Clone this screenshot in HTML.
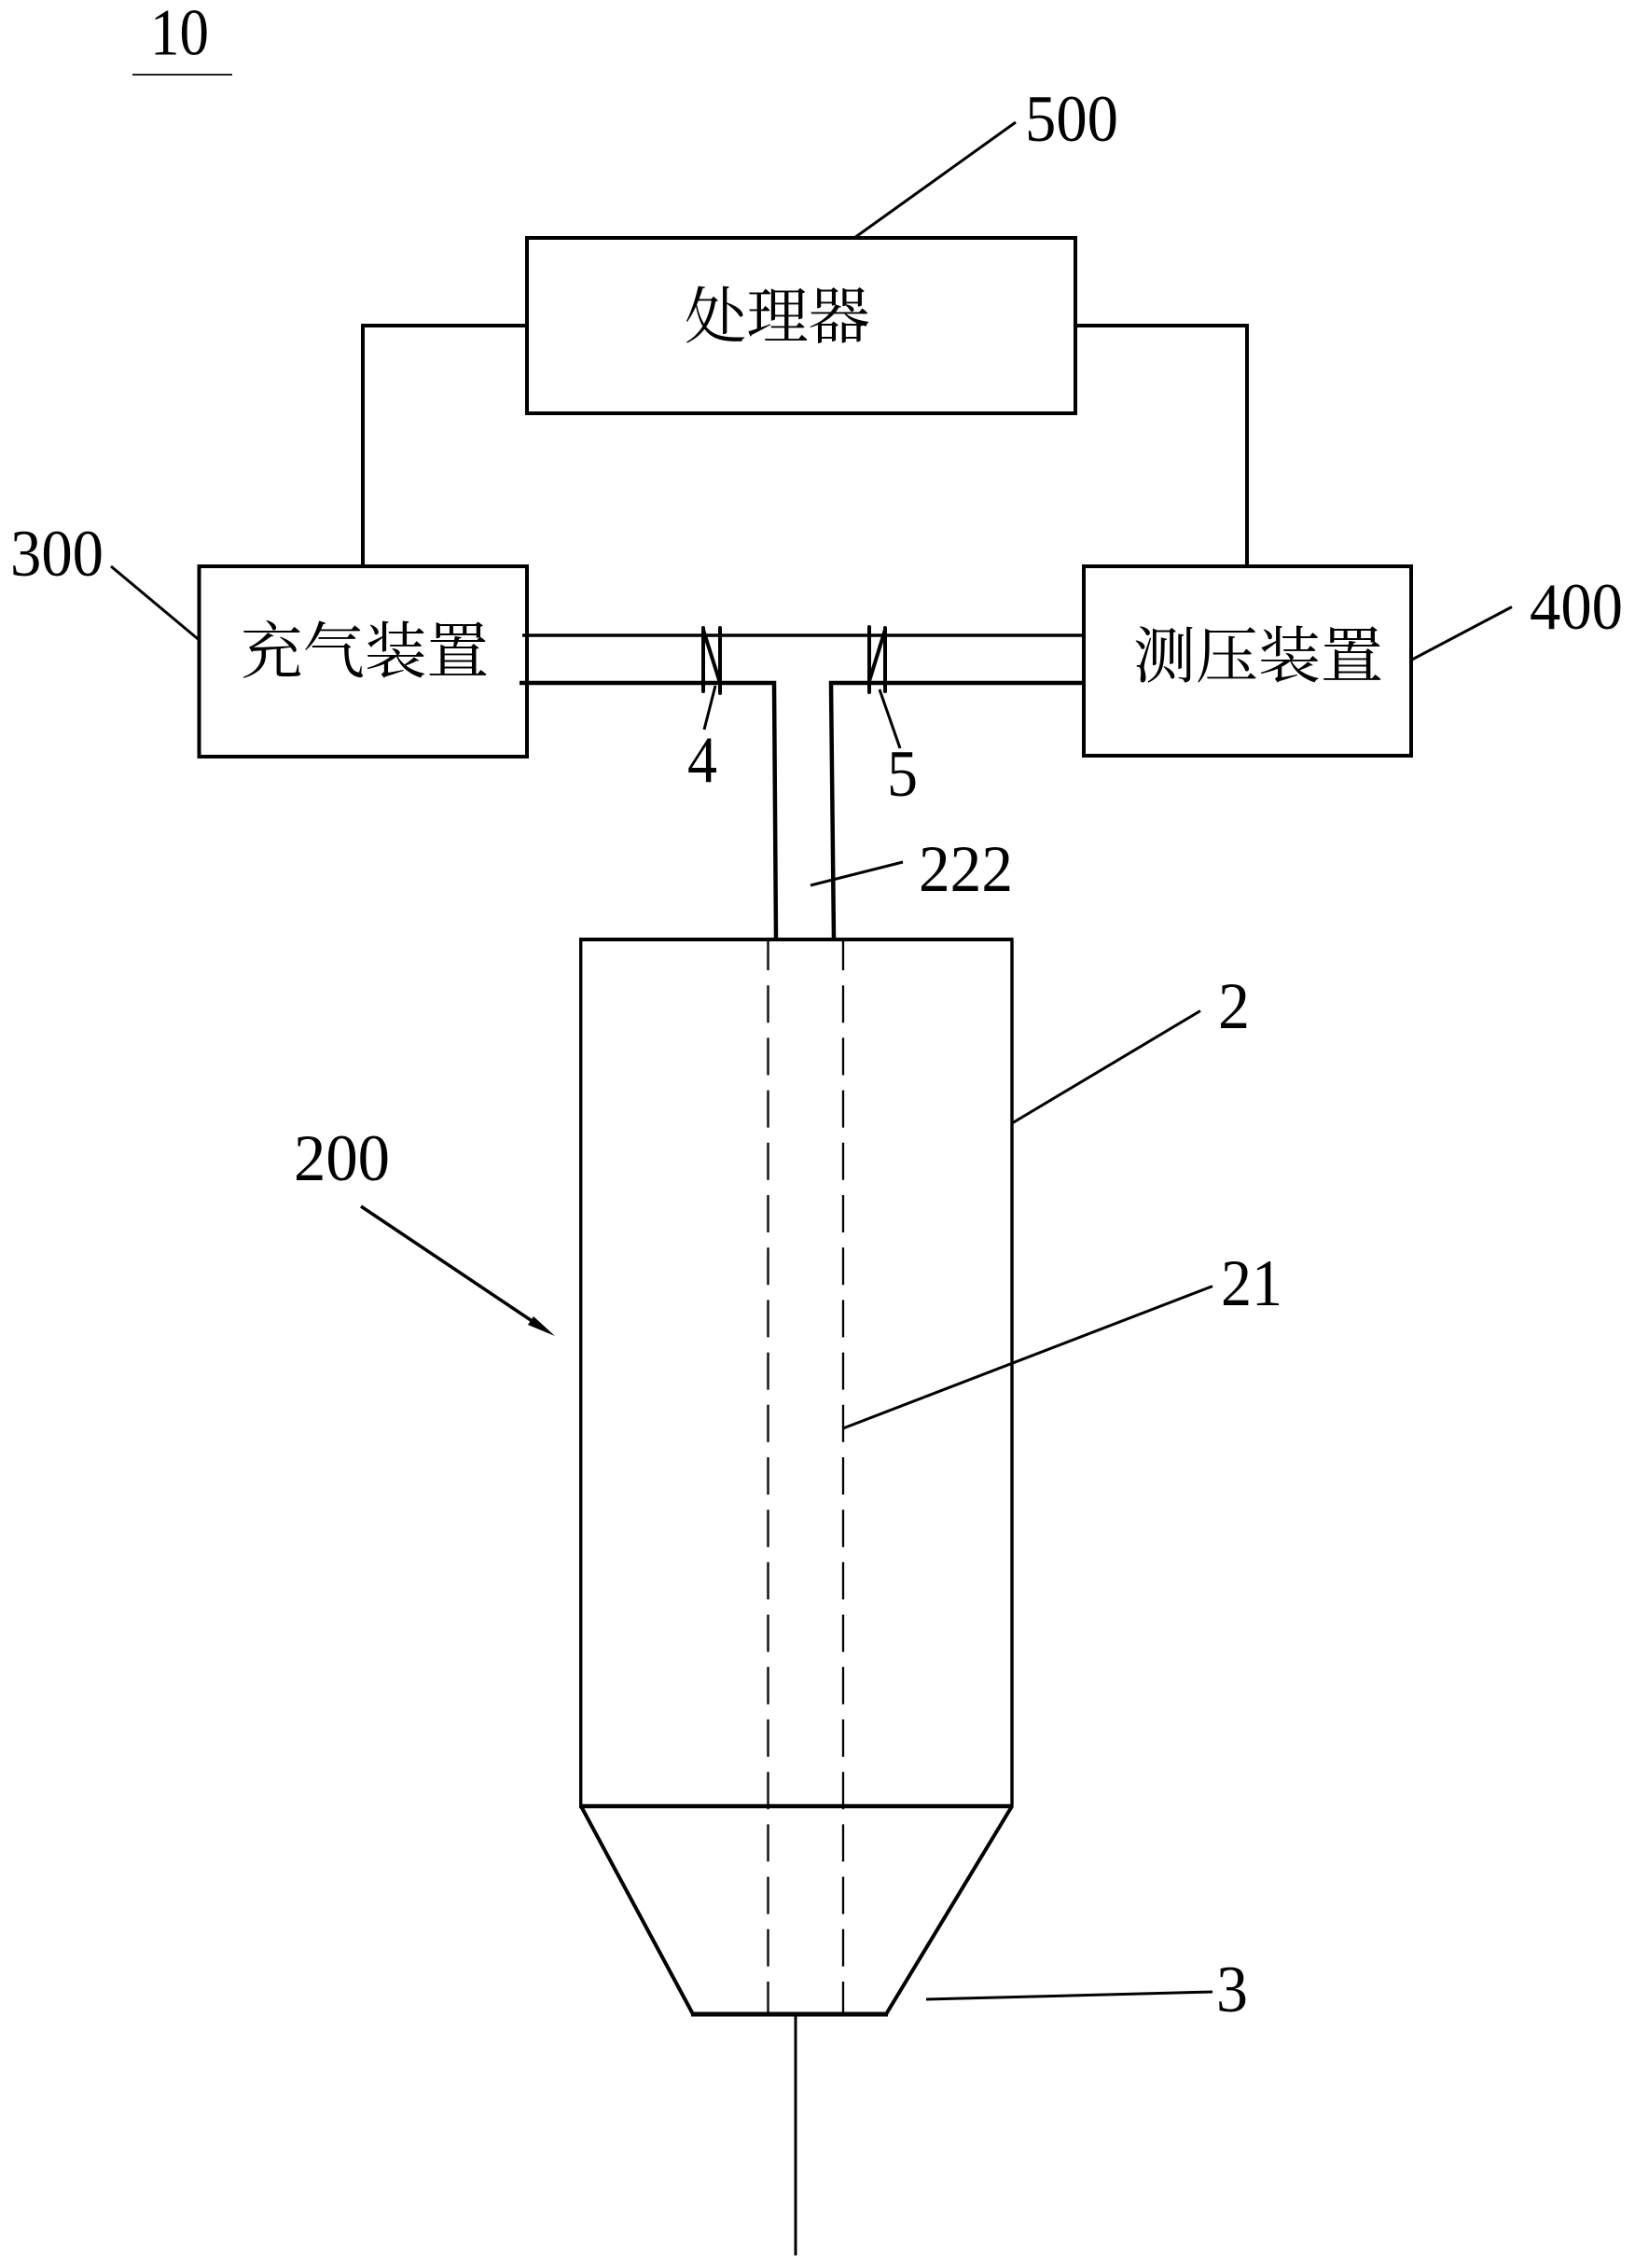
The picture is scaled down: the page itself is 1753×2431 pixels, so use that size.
<!DOCTYPE html>
<html lang="zh"><head><meta charset="utf-8"><title>Diagram</title>
<style>
html,body{margin:0;padding:0;background:#fff}
svg{display:block}
.n{font-family:"Liberation Serif",serif;font-size:71px;fill:#000}
.c{font-family:"Liberation Serif","Noto Serif CJK SC",serif;font-size:66px;fill:#000}
</style></head><body>
<svg xmlns="http://www.w3.org/2000/svg" width="1753" height="2431" viewBox="0 0 1753 2431">
<rect width="1753" height="2431" fill="#fff"/>
<g fill="none" stroke="#000" stroke-width="4" stroke-linejoin="miter">
<!-- boxes -->
<rect x="565" y="255" width="588" height="188"/>
<rect x="213.5" y="607" width="351.5" height="204"/>
<rect x="1162" y="607" width="351" height="203"/>
<!-- connectors -->
<path d="M565 349H389V607"/>
<path d="M1153 349H1337V607"/>
<!-- pipes -->
<path d="M560 681H1162" stroke-width="3.5"/>
<path d="M557 732H830L832 1007" stroke-width="4.5"/>
<path d="M1162 732H891L894 1007" stroke-width="4.5"/>
<!-- valves -->
<path d="M754 673V741M772 673V743M754 675L772 732" stroke-linecap="round"/>
<path d="M932 672V742M949 673V741M949 675L932 730" stroke-linecap="round"/>
<!-- body -->
<path d="M622.700 1007V1936M1085 1007V1936" stroke-width="3.400"/>
<path d="M621 1007H1086.500"/>
<path d="M621 1936H1086.500" stroke-width="4.500"/>
<path d="M623 1936L743 2159H950L1085 1936"/>
<path d="M741 2159H952" stroke-width="5"/>
<path d="M853 2159V2417.500" stroke-width="3"/>
</g>
<g fill="none" stroke="#000" stroke-width="2.300">
<path d="M823.500 1007V2159" stroke-dasharray="40 16.2" stroke-dashoffset="7"/>
<path d="M904 1007V2159" stroke-dasharray="40 16.2" stroke-dashoffset="7"/>
</g>
<g fill="none" stroke="#000" stroke-width="3">
<path d="M142 80H249" stroke-width="1.800"/>
<path d="M119 607L213.500 686"/>
<path d="M1089 131L916 255"/>
<path d="M1514 707L1621 650.500"/>
<path d="M767 735L755 782"/>
<path d="M943 739L965 802"/>
<path d="M869 949L968 924"/>
<path d="M1287 1083.500L1085 1204"/>
<path d="M387 1293L572 1417" stroke-width="3.500"/>
<path d="M1300 1378.600L904 1531"/>
<path d="M993 2143L1300 2135"/>
</g>
<polygon points="595,1432 566,1420 572,1411" fill="#000"/>
<!-- labels -->
<text class="n" x="161" y="58.500" textLength="63" lengthAdjust="spacingAndGlyphs">10</text>
<text class="n" x="1099" y="151" textLength="100" lengthAdjust="spacingAndGlyphs">500</text>
<text class="n" x="11" y="617" textLength="100" lengthAdjust="spacingAndGlyphs">300</text>
<text class="n" x="1640" y="674" textLength="100" lengthAdjust="spacingAndGlyphs">400</text>
<text class="n" x="737" y="838" textLength="32" lengthAdjust="spacingAndGlyphs">4</text>
<text class="n" x="951" y="853" textLength="33" lengthAdjust="spacingAndGlyphs">5</text>
<text class="n" x="985" y="955" textLength="101" lengthAdjust="spacingAndGlyphs">222</text>
<text class="n" x="1306" y="1102" textLength="34" lengthAdjust="spacingAndGlyphs">2</text>
<text class="n" x="315" y="1265" textLength="103" lengthAdjust="spacingAndGlyphs">200</text>
<text class="n" x="1309" y="1399" textLength="66" lengthAdjust="spacingAndGlyphs">21</text>
<text class="n" x="1304" y="2156" textLength="34" lengthAdjust="spacingAndGlyphs">3</text>
<text class="c" x="734" y="362" textLength="199" lengthAdjust="spacingAndGlyphs">处理器</text>
<text class="c" x="258" y="721" textLength="266" lengthAdjust="spacingAndGlyphs">充气装置</text>
<text class="c" x="1215" y="726" textLength="268" lengthAdjust="spacingAndGlyphs">测压装置</text>
</svg>
</body></html>
